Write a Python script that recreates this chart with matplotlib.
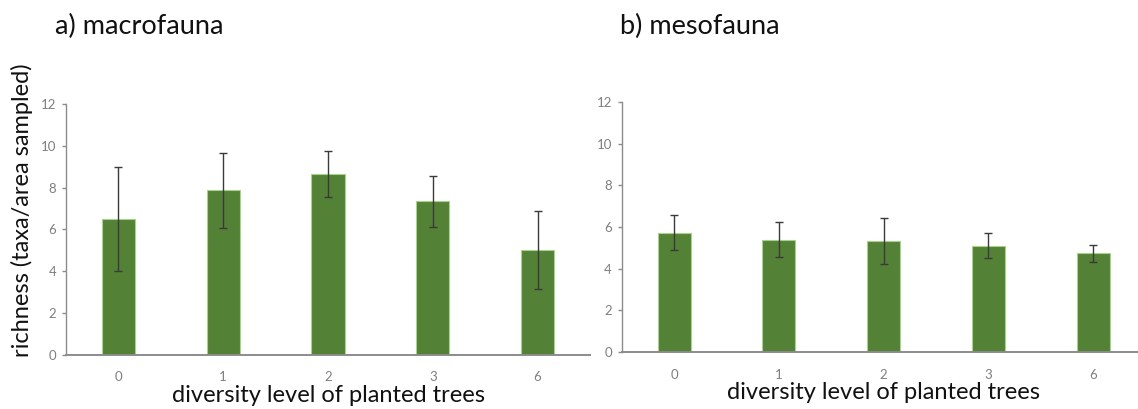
import numpy as np
import matplotlib
matplotlib.use("Agg")
import matplotlib.pyplot as plt

plt.rcParams['font.family'] = ['Lato', 'DejaVu Sans']

# tree diversity levels on the x axis
levels = ['0', '1', '2', '3', '6']

# macrofauna richness: mean and error
macro_mean = [6.5, 7.87, 8.65, 7.35, 5.0]
macro_err = [2.5, 1.8, 1.12, 1.22, 1.86]

# mesofauna richness: mean and error
meso_mean = [5.72, 5.4, 5.32, 5.1, 4.74]
meso_err = [0.84, 0.82, 1.1, 0.6, 0.42]

bar_color = '#538135'
edge_color = '#a9d08e'
axis_gray = '#8c8c8c'
tick_gray = '#7f7f7f'

W, H = 1138, 409
fig = plt.figure(figsize=(W / 100, H / 100), dpi=100)

ax1 = fig.add_axes([66 / W, 1 - 354.5 / H, 524 / W, 250.2 / H])
ax2 = fig.add_axes([621.7 / W, 1 - 352 / H, 523.8 / W, 250 / H])


def draw_panel(ax, mean, err):
    x = np.arange(len(levels))
    ax.bar(x, mean, width=0.315, color=bar_color, edgecolor=edge_color,
           linewidth=0.8, zorder=2)
    ax.errorbar(x, mean, yerr=err, fmt='none', ecolor='#3a3a3a',
                elinewidth=1.0, capsize=2.9, capthick=1.0, zorder=3)
    ax.set_xlim(-0.5, 4.5)
    ax.set_ylim(0, 12)
    ax.set_yticks(range(0, 13, 2))
    ax.set_xticks(x)
    ax.set_xticklabels(levels)
    for s in ['top', 'right']:
        ax.spines[s].set_visible(False)
    ax.spines['left'].set_color(axis_gray)
    ax.spines['left'].set_linewidth(1.0)
    ax.spines['bottom'].set_color(axis_gray)
    ax.spines['bottom'].set_linewidth(1.4)
    ax.spines['bottom'].set_zorder(4)
    ax.tick_params(axis='y', colors=axis_gray, labelcolor=tick_gray,
                   length=3, width=1.0, pad=4, labelsize=9.5)
    ax.tick_params(axis='x', length=0, pad=12, labelcolor=tick_gray,
                   labelsize=9.5)
    ax.set_xlabel('diversity level of planted trees', fontsize=17,
                  labelpad=1, color='#111111')


draw_panel(ax1, macro_mean, macro_err)
draw_panel(ax2, meso_mean, meso_err)

ax1.set_ylabel('richness (taxa/area sampled)', fontsize=17, color='#111111')
ax1.yaxis.set_label_coords(-0.063, 0.576)

fig.text(55 / W, 1 - 26 / H, 'a) macrofauna', fontsize=19.5, va='center',
         ha='left', color='#111111')
fig.text(620 / W, 1 - 26 / H, 'b) mesofauna', fontsize=19.5, va='center',
         ha='left', color='#111111')

fig.savefig('out.png', dpi=100)
